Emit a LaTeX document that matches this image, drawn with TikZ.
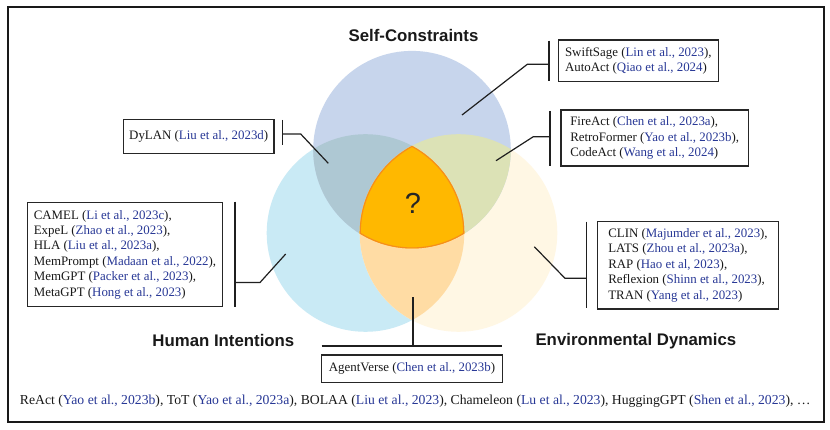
\documentclass[tikz,border=0pt]{standalone}
\usepackage{fontspec}
\setmainfont{Liberation Serif}
\newfontfamily\ttlfont{Liberation Sans}
\definecolor{citeblue}{RGB}{40,56,150}
\definecolor{ctopc}{RGB}{199,213,236}
\definecolor{cleftc}{RGB}{201,234,245}
\definecolor{crightc}{RGB}{255,247,228}
\definecolor{ctlc}{RGB}{174,200,211}
\definecolor{ctrc}{RGB}{220,226,182}
\definecolor{clrc}{RGB}{255,220,164}
\definecolor{cmidc}{RGB}{255,184,0}
\definecolor{cmidborder}{RGB}{245,140,30}
\newcommand{\mycite}[1]{\textcolor{citeblue}{#1}}
\newcommand{\bxfont}{\fontsize{12.9}{15.4}\selectfont}
\newcommand{\btfont}{\fontsize{13.7}{16}\selectfont}
\tikzset{
  refbox/.style={draw=black!85, line width=1.3pt, fill=white, inner sep=0pt, align=left, font=\bxfont, text=black!90},
  conn/.style={draw=black!88, line width=1.2pt},
  ttl/.style={font=\ttlfont\bfseries\fontsize{16.8}{18}\selectfont, text=black!90},
}
\begin{document}
\begin{tikzpicture}[x=1pt,y=-1pt]
\useasboundingbox (0,0) rectangle (830,430);
\fill[white] (0,0) rectangle (830,430);
% frame
\draw[line width=2pt, black!90] (8.3,7.3) rectangle (824,422);

% circles
\coordinate (ct) at (412,149.7);
\coordinate (cl) at (365.5,233);
\coordinate (cr) at (458.5,233);
\def\R{98.8pt}
\fill[cleftc] (cl) circle[radius=\R];
\fill[crightc] (cr) circle[radius=\R];
\fill[ctopc] (ct) circle[radius=\R];
\begin{scope}
  \clip (ct) circle[radius=\R];
  \fill[ctlc] (cl) circle[radius=\R];
\end{scope}
\begin{scope}
  \clip (ct) circle[radius=\R];
  \fill[ctrc] (cr) circle[radius=\R];
\end{scope}
\begin{scope}
  \clip (cl) circle[radius=\R];
  \fill[clrc] (cr) circle[radius=\R];
\end{scope}
\begin{scope}
  \clip (ct) circle[radius=\R];
  \clip (cl) circle[radius=\R];
  \clip (cr) circle[radius=\R];
  \fill[cmidc] (ct) circle[radius=\R];
  \draw[cmidborder, line width=2.2pt] (ct) circle[radius=\R] (cl) circle[radius=\R] (cr) circle[radius=\R];
\end{scope}
\node[font=\ttlfont\fontsize{29}{30}\selectfont, text=black!85] (q) at (413,203) {?};

% titles
\node[ttl] (st) at (413.5,35) {Self-Constraints};
\node[ttl] (hi) at (223.4,340.7) {Human Intentions};
\node[ttl] (ed) at (635.9,340.7) {Environmental Dynamics};

% boxes
\node[refbox, minimum width=160pt, minimum height=41.7pt] (swift) at (638.3,60.9)
  {SwiftSage (\mycite{Lin et al., 2023}),\\AutoAct (\mycite{Qiao et al., 2024})};
\node[refbox, minimum width=187.3pt, minimum height=56pt] (fire) at (654.7,138)
  {FireAct (\mycite{Chen et al., 2023a}),\\RetroFormer (\mycite{Yao et al., 2023b}),\\CodeAct (\mycite{Wang et al., 2024})};
\node[refbox, minimum width=150.7pt, minimum height=34pt] (dylan) at (198.7,136.3)
  {DyLAN (\mycite{Liu et al., 2023d})};
\node[refbox, minimum width=195.4pt, minimum height=104.5pt] (camel) at (125,254.5)
  {CAMEL (\mycite{Li et al., 2023c}),\\ExpeL (\mycite{Zhao et al., 2023}),\\HLA (\mycite{Liu et al., 2023a}),\\MemPrompt (\mycite{Madaan et al., 2022}),\\MemGPT (\mycite{Packer et al., 2023}),\\MetaGPT (\mycite{Hong et al., 2023})};
\node[refbox, minimum width=180.6pt, minimum height=87.3pt] (clin) at (688,265.3)
  {CLIN (\mycite{Majumder et al., 2023}),\\LATS (\mycite{Zhou et al., 2023a}),\\RAP (\mycite{Hao et al, 2023}),\\Reflexion (\mycite{Shinn et al., 2023}),\\TRAN (\mycite{Yang et al., 2023})};
\node[refbox, minimum width=180.6pt, minimum height=27.3pt] (agent) at (412,368.7)
  {AgentVerse (\mycite{Chen et al., 2023b})};

% bottom line
\node[anchor=west, inner sep=0pt, font=\btfont, text=black!90] (bottom) at (19.7,401.5)
  {ReAct (\mycite{Yao et al., 2023b}), ToT (\mycite{Yao et al., 2023a}), BOLAA (\mycite{Liu et al., 2023}), Chameleon (\mycite{Lu et al., 2023}), HuggingGPT (\mycite{Shen et al., 2023}), \ldots};

% connectors: SwiftSage
\coordinate (s1t) at (549,40.7);
\coordinate (s1b) at (549,81);
\coordinate (s1j) at (549,64.3);
\coordinate (s1k) at (527.3,64.3);
\coordinate (s1e) at (462,115);
\draw[conn] (s1t) -- (s1b);
\draw[conn] (s1j) -- (s1k) -- (s1e);
% FireAct
\coordinate (f1t) at (550,111);
\coordinate (f1b) at (550,166);
\coordinate (f1j) at (550,136.7);
\coordinate (f1k) at (533.3,136.7);
\coordinate (f1e) at (496,160.7);
\draw[conn] (f1t) -- (f1b);
\draw[conn] (f1j) -- (f1k) -- (f1e);
% DyLAN
\coordinate (d1t) at (282.7,120);
\coordinate (d1b) at (282.7,145);
\coordinate (d1j) at (282.7,134);
\coordinate (d1k) at (300.7,134);
\coordinate (d1e) at (328.3,163.3);
\draw[conn] (d1t) -- (d1b);
\draw[conn] (d1j) -- (d1k) -- (d1e);
% CAMEL
\coordinate (c1t) at (235,201.7);
\coordinate (c1b) at (235,306.7);
\coordinate (c1j) at (235,282.5);
\coordinate (c1k) at (260,282.5);
\coordinate (c1e) at (285.7,254);
\draw[conn] (c1t) -- (c1b);
\draw[conn] (c1j) -- (c1k) -- (c1e);
% CLIN
\coordinate (l1t) at (586.7,221.7);
\coordinate (l1b) at (586.7,308);
\coordinate (l1j) at (586.7,278.3);
\coordinate (l1k) at (565,278.3);
\coordinate (l1e) at (534.3,246.7);
\draw[conn] (l1t) -- (l1b);
\draw[conn] (l1j) -- (l1k) -- (l1e);
% AgentVerse
\coordinate (a1l) at (321.7,346);
\coordinate (a1r) at (502.3,346);
\coordinate (a1j) at (413,346);
\coordinate (a1e) at (413,297.3);
\draw[conn] (a1l) -- (a1r);
\draw[conn] (a1j) -- (a1e);
\end{tikzpicture}
\end{document}
